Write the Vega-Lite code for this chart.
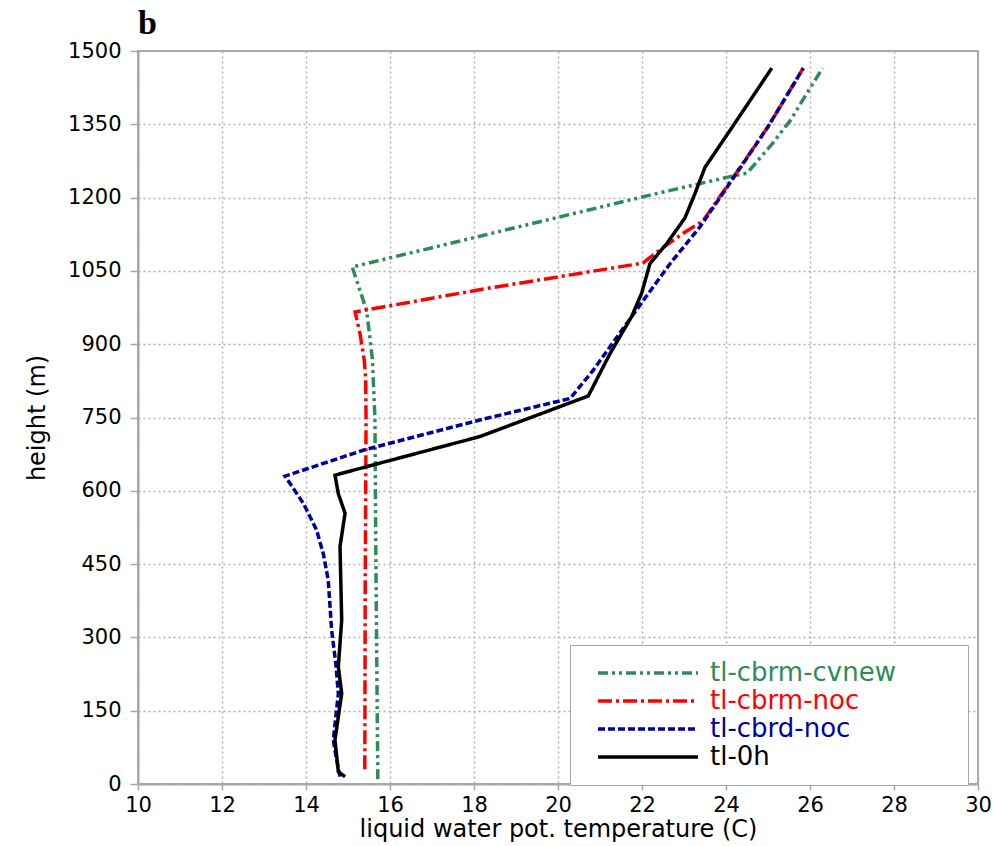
{
  "$schema": "https://vega.github.io/schema/vega-lite/v6.json",
  "width": 840,
  "height": 733,
  "autosize": "none",
  "padding": {"left": 138, "top": 51, "right": 22, "bottom": 62},
  "background": "white",
  "title": {"text": "b", "anchor": "start", "frame": "group", "font": "Liberation Serif", "fontWeight": "bold", "fontSize": 34, "color": "black", "offset": -28, "baseline": "alphabetic"},
  "config": {
    "view": {"stroke": "#a8a8a8", "strokeWidth": 2},
    "axis": {"labelFont": "DejaVu Sans", "labelFontSize": 21, "labelColor": "black", "titleFont": "DejaVu Sans", "titleFontSize": 24, "titleFontWeight": "normal", "titleColor": "black", "domainColor": "#a8a8a8", "domainWidth": 2, "tickColor": "#a8a8a8", "tickWidth": 1.5, "gridColor": "#b0b0b0", "gridDash": [2, 3], "gridWidth": 1.5, "gridOpacity": 1}
  },
  "data": {"values": [
    {"series": "tl-cbrm-cvnew", "t": 15.71, "h": 10},
    {"series": "tl-cbrm-cvnew", "t": 15.69, "h": 200},
    {"series": "tl-cbrm-cvnew", "t": 15.66, "h": 500},
    {"series": "tl-cbrm-cvnew", "t": 15.64, "h": 750},
    {"series": "tl-cbrm-cvnew", "t": 15.58, "h": 870},
    {"series": "tl-cbrm-cvnew", "t": 15.52, "h": 915},
    {"series": "tl-cbrm-cvnew", "t": 15.44, "h": 970},
    {"series": "tl-cbrm-cvnew", "t": 15.10, "h": 1058},
    {"series": "tl-cbrm-cvnew", "t": 22.19, "h": 1205},
    {"series": "tl-cbrm-cvnew", "t": 24.10, "h": 1243},
    {"series": "tl-cbrm-cvnew", "t": 24.50, "h": 1250},
    {"series": "tl-cbrm-cvnew", "t": 25.10, "h": 1310},
    {"series": "tl-cbrm-cvnew", "t": 25.55, "h": 1360},
    {"series": "tl-cbrm-cvnew", "t": 25.90, "h": 1410},
    {"series": "tl-cbrm-cvnew", "t": 26.30, "h": 1465},

    {"series": "tl-cbrm-noc", "t": 15.40, "h": 30},
    {"series": "tl-cbrm-noc", "t": 15.41, "h": 400},
    {"series": "tl-cbrm-noc", "t": 15.43, "h": 750},
    {"series": "tl-cbrm-noc", "t": 15.42, "h": 830},
    {"series": "tl-cbrm-noc", "t": 15.39, "h": 865},
    {"series": "tl-cbrm-noc", "t": 15.29, "h": 920},
    {"series": "tl-cbrm-noc", "t": 15.17, "h": 966},
    {"series": "tl-cbrm-noc", "t": 18.30, "h": 1014},
    {"series": "tl-cbrm-noc", "t": 22.02, "h": 1066},
    {"series": "tl-cbrm-noc", "t": 22.50, "h": 1098},
    {"series": "tl-cbrm-noc", "t": 23.00, "h": 1128},
    {"series": "tl-cbrm-noc", "t": 23.45, "h": 1152},
    {"series": "tl-cbrm-noc", "t": 24.00, "h": 1220},
    {"series": "tl-cbrm-noc", "t": 25.00, "h": 1345},
    {"series": "tl-cbrm-noc", "t": 25.84, "h": 1465},

    {"series": "tl-cbrd-noc", "t": 14.81, "h": 15},
    {"series": "tl-cbrd-noc", "t": 14.73, "h": 49},
    {"series": "tl-cbrd-noc", "t": 14.65, "h": 90},
    {"series": "tl-cbrd-noc", "t": 14.77, "h": 185},
    {"series": "tl-cbrd-noc", "t": 14.71, "h": 246},
    {"series": "tl-cbrd-noc", "t": 14.61, "h": 315},
    {"series": "tl-cbrd-noc", "t": 14.53, "h": 417},
    {"series": "tl-cbrd-noc", "t": 14.41, "h": 472},
    {"series": "tl-cbrd-noc", "t": 14.25, "h": 520},
    {"series": "tl-cbrd-noc", "t": 13.94, "h": 574},
    {"series": "tl-cbrd-noc", "t": 13.50, "h": 630},
    {"series": "tl-cbrd-noc", "t": 15.36, "h": 683},
    {"series": "tl-cbrd-noc", "t": 18.14, "h": 745},
    {"series": "tl-cbrd-noc", "t": 20.29, "h": 789},
    {"series": "tl-cbrd-noc", "t": 20.84, "h": 847},
    {"series": "tl-cbrd-noc", "t": 21.64, "h": 943},
    {"series": "tl-cbrd-noc", "t": 22.67, "h": 1065},
    {"series": "tl-cbrd-noc", "t": 23.38, "h": 1140},
    {"series": "tl-cbrd-noc", "t": 24.00, "h": 1218},
    {"series": "tl-cbrd-noc", "t": 25.00, "h": 1345},
    {"series": "tl-cbrd-noc", "t": 25.84, "h": 1465},

    {"series": "tl-0h", "t": 14.93, "h": 15},
    {"series": "tl-0h", "t": 14.77, "h": 25},
    {"series": "tl-0h", "t": 14.69, "h": 90},
    {"series": "tl-0h", "t": 14.85, "h": 185},
    {"series": "tl-0h", "t": 14.77, "h": 240},
    {"series": "tl-0h", "t": 14.85, "h": 336},
    {"series": "tl-0h", "t": 14.81, "h": 486},
    {"series": "tl-0h", "t": 14.93, "h": 554},
    {"series": "tl-0h", "t": 14.77, "h": 594},
    {"series": "tl-0h", "t": 14.69, "h": 632},
    {"series": "tl-0h", "t": 15.60, "h": 653},
    {"series": "tl-0h", "t": 18.14, "h": 711},
    {"series": "tl-0h", "t": 20.72, "h": 794},
    {"series": "tl-0h", "t": 21.24, "h": 881},
    {"series": "tl-0h", "t": 21.75, "h": 956},
    {"series": "tl-0h", "t": 21.99, "h": 1004},
    {"series": "tl-0h", "t": 22.19, "h": 1065},
    {"series": "tl-0h", "t": 22.59, "h": 1106},
    {"series": "tl-0h", "t": 23.02, "h": 1158},
    {"series": "tl-0h", "t": 23.26, "h": 1208},
    {"series": "tl-0h", "t": 23.50, "h": 1262},
    {"series": "tl-0h", "t": 24.17, "h": 1347},
    {"series": "tl-0h", "t": 25.09, "h": 1465}
  ]},
  "mark": {"type": "line", "strokeWidth": 3.5, "strokeCap": "butt", "strokeJoin": "miter"},
  "encoding": {
    "x": {"field": "t", "type": "quantitative", "scale": {"domain": [10, 30], "nice": false, "zero": false},
      "axis": {"title": "liquid water pot. temperature (C)", "values": [10, 12, 14, 16, 18, 20, 22, 24, 26, 28, 30], "tickSize": 6, "labelPadding": 4, "titlePadding": 2, "labelFlush": false}},
    "y": {"field": "h", "type": "quantitative", "scale": {"domain": [0, 1500], "nice": false},
      "axis": {"title": "height (m)", "values": [0, 150, 300, 450, 600, 750, 900, 1050, 1200, 1350, 1500], "format": "d", "tickSize": 8, "labelPadding": 9, "titlePadding": 18, "labelFlush": false}},
    "order": {"field": "h", "type": "quantitative"},
    "color": {"field": "series", "type": "nominal",
      "scale": {"domain": ["tl-cbrm-cvnew", "tl-cbrm-noc", "tl-cbrd-noc", "tl-0h"], "range": ["#2e8b57", "#ff0000", "#00009c", "#000000"]},
      "legend": {"title": null, "orient": "none", "legendX": 432, "legendY": 594, "symbolType": "stroke", "symbolSize": 10000, "symbolStrokeWidth": 3.5, "symbolOffset": 12, "clipHeight": 28, "labelFont": "DejaVu Sans", "labelFontSize": 26, "labelOffset": 10, "labelLimit": 400, "rowPadding": 0, "padding": 14, "fillColor": "white", "strokeColor": "#a8a8a8", "labelExpr": "datum.label + '\u2800\u2800\u2800'",
        "encode": {"labels": {"update": {"fill": {"signal": "scale('color', datum.value)"}}}}}},
    "strokeDash": {"field": "series", "type": "nominal",
      "scale": {"domain": ["tl-cbrm-cvnew", "tl-cbrm-noc", "tl-cbrd-noc", "tl-0h"], "range": [[10, 4, 3, 4, 3, 4], [14, 4, 3, 4], [7, 3], [1, 0]]},
      "legend": {"title": null, "orient": "none", "legendX": 432, "legendY": 594, "symbolType": "stroke", "symbolSize": 10000, "symbolStrokeWidth": 3.5, "symbolOffset": 12, "clipHeight": 28, "labelFont": "DejaVu Sans", "labelFontSize": 26, "labelOffset": 10, "labelLimit": 400, "rowPadding": 0, "padding": 14, "fillColor": "white", "strokeColor": "#a8a8a8", "labelExpr": "datum.label + '\u2800\u2800\u2800'",
        "encode": {"labels": {"update": {"fill": {"signal": "scale('color', datum.value)"}}}}}}
  }
}
